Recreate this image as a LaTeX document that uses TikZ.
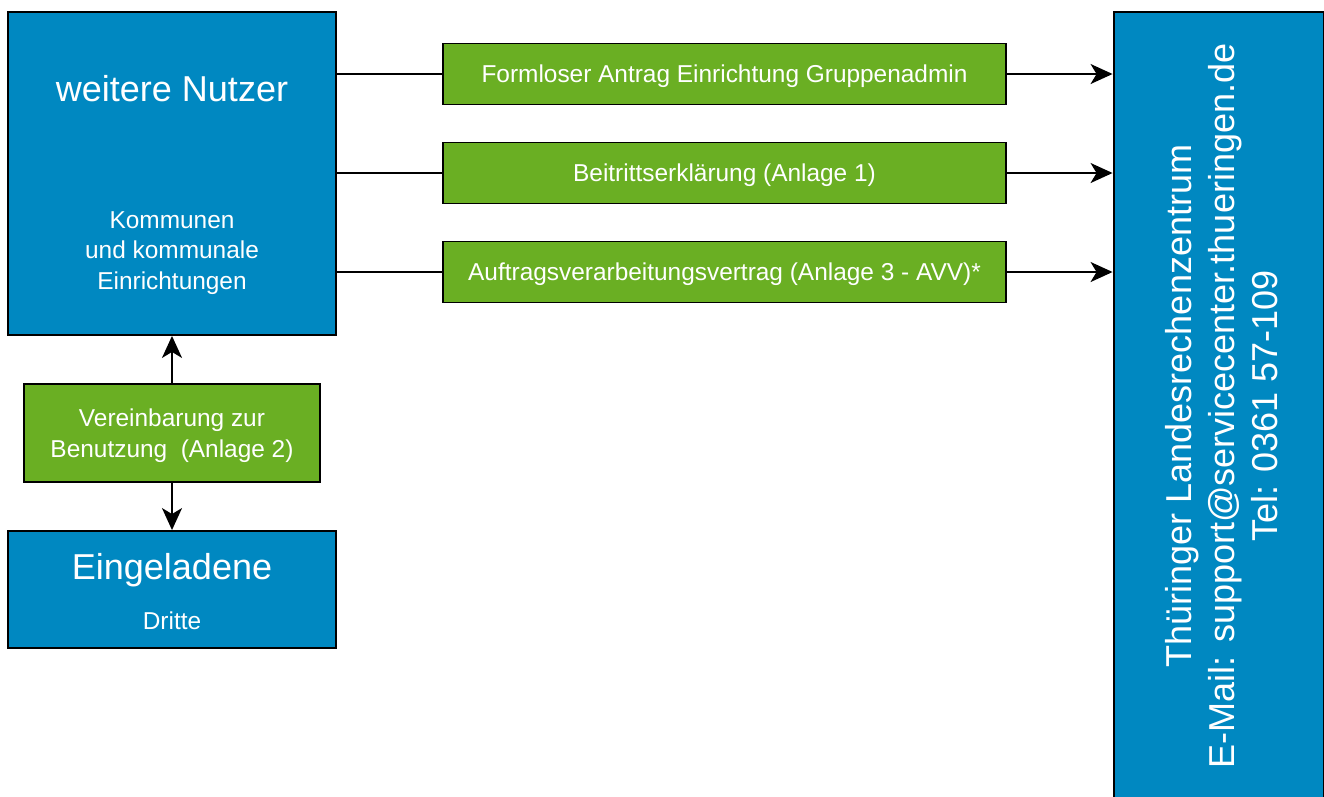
\documentclass[tikz,border=0pt]{standalone}
\usepackage{fontspec}
\setmainfont{Liberation Sans}
\usetikzlibrary{arrows.meta}
\definecolor{tlrzblue}{HTML}{0088C1}
\definecolor{tlrzgreen}{HTML}{6AAF23}
\newcommand\tlrzbig{\fontsize{20.5}{24.5}\selectfont}
\newcommand\tlrzmed{\fontsize{13.9}{17.4}\selectfont}
\begin{document}
\begin{tikzpicture}[
                x=0.02cm, y=-0.02cm,
                line width=1.1pt,
                >={Stealth[length=4.4mm,width=4mm,inset=1.2mm]},
                bluebox/.style={draw, fill=tlrzblue, inner sep=0pt},
                greenbox/.style={draw, fill=tlrzgreen, text=white, align=center, text depth=0pt,
                    inner sep=0pt, minimum width=11.26cm, minimum height=1.22cm, font=\tlrzmed},
                bigtext/.style={text=white, align=center, font=\tlrzbig},
                medtext/.style={text=white, align=center, text depth=0pt, font=\tlrzmed}
            ]
            \useasboundingbox (0,0) rectangle (1324,796);
            \node[bluebox, minimum width=6.56cm, minimum height=6.46cm] (nutzer) at (172,173.5) {};
            \node[bigtext] (nutzertitel) at (172,89) {weitere Nutzer};
            \node[medtext] (kommunen) at (172,250.5) {Kommunen\\und kommunale\\Einrichtungen};
            \node[bluebox, minimum width=6.56cm, minimum height=2.34cm] (eingeladen) at (172,589.5) {};
            \node[bigtext] (eingeladentitel) at (172,570.5) {Eingeladene};
            \node[medtext] (dritte) at (172,621) {Dritte};
            \node[greenbox, minimum width=5.92cm, minimum height=1.96cm] (vereinbarung) at (172,433)
                {Vereinbarung zur\\Benutzung~ (Anlage 2)};
            \node[greenbox] (formlos) at (724.5,74) {Formloser Antrag Einrichtung Gruppenadmin};
            \node[greenbox] (beitritt) at (724.5,173) {Beitrittserklärung (Anlage 1)};
            \node[greenbox] (avv) at (724.5,272) {Auftragsverarbeitungsvertrag (Anlage 3 - AVV)*};
            \node[bluebox, minimum width=4.2cm, minimum height=15.8cm] (tlrz) at (1218.5,407) {};
            \node[bigtext, rotate=90, align=center] (kontakt) at (1222,406)
                {Thüringer Landesrechenzentrum\\E-Mail: support@servicecenter.thueringen.de\\Tel: 0361 57-109};
            \draw (formlos.west -| nutzer.east) -- (formlos.west);
            \draw (beitritt.west -| nutzer.east) -- (beitritt.west);
            \draw (avv.west -| nutzer.east) -- (avv.west);
            \draw[->] (formlos.east) -- (formlos.east -| tlrz.west);
            \draw[->] (beitritt.east) -- (beitritt.east -| tlrz.west);
            \draw[->] (avv.east) -- (avv.east -| tlrz.west);
            \draw[->] (vereinbarung) -- (nutzer);
            \draw[->] (vereinbarung) -- (eingeladen);
        \end{tikzpicture}
\end{document}
